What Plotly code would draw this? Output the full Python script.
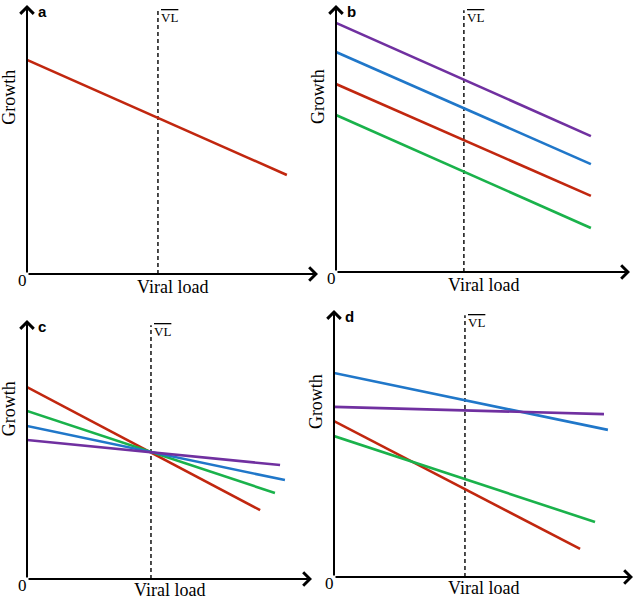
import plotly.graph_objects as go

# line end points, in % of axis length (x) / axis height (y)
panel_letters = ["a", "b", "c", "d"]
vl_pos = [45.0, 43.5, 43.5, 43.8]

# panel a
a_red_x = [0, 89.3]
a_red_y = [79.6, 36.8]

# panel b
b_x = [0, 86.7]
b_purple = [93.3, 50.9]
b_blue = [82.4, 40.4]
b_red = [70.4, 28.5]
b_green = [58.8, 16.5]

# panel c
c_red_x, c_red_y = [0, 81.8], [74.1, 26.6]
c_green_x, c_green_y = [0, 87.0], [64.9, 33.2]
c_blue_x, c_blue_y = [0, 90.5], [59.1, 38.2]
c_purple_x, c_purple_y = [0, 88.8], [53.7, 44.0]

# panel d
d_blue_x, d_blue_y = [0, 91.6], [76.4, 55.1]
d_purple_x, d_purple_y = [0, 90.3], [63.7, 61.0]
d_red_x, d_red_y = [0, 82.3], [58.4, 10.5]
d_green_x, d_green_y = [0, 87.3], [52.8, 20.6]

RED = "#c1270f"
BLUE = "#2077c9"
GREEN = "#1ab24b"
PURPLE = "#7030a0"

W, H = 638, 601
# pixel boxes: (origin x, origin y, arrow tip x, arrow tip y)
boxes = [(27, 274, 318, 5), (336, 272, 630, 5), (27, 579, 312, 320), (334, 577, 633, 310)]

series = [
    [(a_red_x, a_red_y, RED)],
    [(b_x, b_purple, PURPLE), (b_x, b_blue, BLUE), (b_x, b_red, RED), (b_x, b_green, GREEN)],
    [(c_red_x, c_red_y, RED), (c_green_x, c_green_y, GREEN), (c_blue_x, c_blue_y, BLUE),
     (c_purple_x, c_purple_y, PURPLE)],
    [(d_blue_x, d_blue_y, BLUE), (d_purple_x, d_purple_y, PURPLE), (d_red_x, d_red_y, RED),
     (d_green_x, d_green_y, GREEN)],
]

fig = go.Figure()
serif = "Liberation Serif"

for i, (x0, y0, x1, y1) in enumerate(boxes):
    n = "" if i == 0 else str(i + 1)
    xa, ya = "x" + n, "y" + n
    fig.update_layout({
        "xaxis" + n: dict(domain=[x0 / W, x1 / W], range=[0, 100], visible=False, anchor=ya),
        "yaxis" + n: dict(domain=[1 - y0 / H, 1 - y1 / H], range=[0, 100], visible=False, anchor=xa),
    })
    # dashed VL line
    fig.add_trace(go.Scatter(x=[vl_pos[i], vl_pos[i]], y=[0, 98], xaxis=xa, yaxis=ya, mode="lines",
                             line=dict(color="#111", width=1.5, dash="4px,3px"), showlegend=False,
                             hoverinfo="skip"))
    for xs, ys, col in series[i]:
        fig.add_trace(go.Scatter(x=xs, y=ys, xaxis=xa, yaxis=ya, mode="lines",
                                 line=dict(color=col, width=2.6), showlegend=False))
    # axes with arrows
    for tx, ty in [(100, 0), (0, 100)]:
        fig.add_annotation(x=tx, y=ty, ax=0, ay=0, xref=xa, yref=ya, axref=xa, ayref=ya,
                           text="", showarrow=True, arrowhead=4, arrowsize=1.3, arrowwidth=2,
                           arrowcolor="black")
    fig.add_annotation(x=0, y=0, xref=xa, yref=ya, text="0", showarrow=False,
                       xanchor="right", yanchor="top", xshift=2, yshift=5,
                       font=dict(family=serif, size=17, color="black"))
    fig.add_annotation(x=50, y=0, xref=xa, yref=ya, text="Viral load", showarrow=False,
                       yanchor="top", yshift=-1 if i < 2 else 1,
                       font=dict(family=serif, size=18, color="black"))
    fig.add_annotation(x=0, y=65.5, xref=xa, yref=ya, text="Growth", showarrow=False, textangle=-90,
                       xanchor="right", xshift=-6, font=dict(family=serif, size=18, color="black"))
    fig.add_annotation(x=0, y=100, xref=xa, yref=ya, text="<b>" + panel_letters[i] + "</b>",
                       showarrow=False, xanchor="left", yanchor="top", xshift=9, yshift=4,
                       font=dict(family="Liberation Sans", size=15, color="black"))
    fig.add_annotation(x=vl_pos[i], y=95.5, xref=xa, yref=ya,
                       text="<span style='text-decoration:overline'>VL</span>",
                       showarrow=False, xanchor="left", yanchor="middle", xshift=1,
                       font=dict(family=serif, size=13, color="black"))

fig.update_layout(width=W, height=H, margin=dict(l=0, r=0, t=0, b=0),
                  paper_bgcolor="white", plot_bgcolor="white")
fig.write_html("out.html", config={"displayModeBar": False},
               post_script="document.body.style.margin='0';document.body.style.overflow='hidden';")
